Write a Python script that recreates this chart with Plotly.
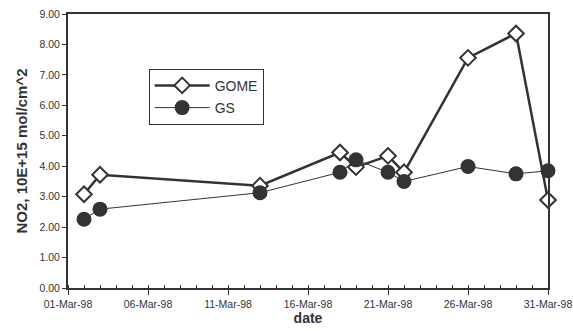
import plotly.graph_objects as go

# NO2 column comparisons, March 1998
gome_dates = ["1998-03-02", "1998-03-03", "1998-03-13", "1998-03-18", "1998-03-19",
              "1998-03-21", "1998-03-22", "1998-03-26", "1998-03-29", "1998-03-31"]
gome_values = [3.08, 3.72, 3.36, 4.45, 3.97, 4.34, 3.80, 7.56, 8.36, 2.89]

gs_dates = ["1998-03-02", "1998-03-03", "1998-03-13", "1998-03-18", "1998-03-19",
            "1998-03-21", "1998-03-22", "1998-03-26", "1998-03-29", "1998-03-31"]
gs_values = [2.26, 2.59, 3.13, 3.80, 4.21, 3.80, 3.50, 3.99, 3.75, 3.85]

ink = "#333333"
font = "Liberation Sans, Arial, sans-serif"

fig = go.Figure()
fig.add_trace(go.Scatter(
    x=gome_dates, y=gome_values, name="GOME", mode="lines+markers",
    legendgroup="a",
    line=dict(color=ink, width=2.5),
    marker=dict(symbol="diamond", size=12, color="white", line=dict(color=ink, width=2)),
    cliponaxis=False,
))
fig.add_trace(go.Scatter(
    x=gs_dates, y=gs_values, name="GS", mode="lines+markers",
    legendgroup="b",
    line=dict(color=ink, width=1),
    marker=dict(symbol="circle", size=15, color=ink, line=dict(width=0)),
    cliponaxis=False,
))

fig.update_layout(
    width=573, height=331,
    margin=dict(l=68, r=25, t=14, b=43),
    paper_bgcolor="white", plot_bgcolor="white",
    font=dict(family=font, color=ink, size=10.5),
    showlegend=True,
    legend=dict(
        x=0.168, y=0.80, xanchor="left", yanchor="top",
        bordercolor=ink, borderwidth=1, bgcolor="white",
        font=dict(size=14, color=ink), itemwidth=55,
        traceorder="grouped", tracegroupgap=1,
    ),
    xaxis=dict(
        type="date", automargin=False,
        range=["1998-03-01", "1998-03-31"],
        tick0="1998-03-01", dtick=5 * 86400000,
        tickformat="%d-%b-%y",
        ticks="outside", ticklen=5, tickwidth=1, tickcolor=ink,
        minor=dict(dtick=86400000, ticks="inside", ticklen=3, tickcolor=ink, tickwidth=1),
        showgrid=False, zeroline=False,
        showline=True, linecolor=ink, linewidth=2, mirror=True,
        tickfont=dict(size=10.5, color=ink),
        title=dict(text="<b>date</b>", font=dict(size=14, color=ink), standoff=5),
    ),
    yaxis=dict(
        range=[0, 9], dtick=1, tickformat=".2f", automargin=False,
        ticks="outside", ticklen=4, tickwidth=1, tickcolor=ink,
        showgrid=False, zeroline=False,
        showline=True, linecolor=ink, linewidth=2, mirror=True,
        tickfont=dict(size=10.5, color=ink),
        title=dict(text="<b>NO2, 10E+15 mol/cm^2</b>", font=dict(size=15, color=ink), standoff=8),
    ),
)

fig.write_html("out.html")
